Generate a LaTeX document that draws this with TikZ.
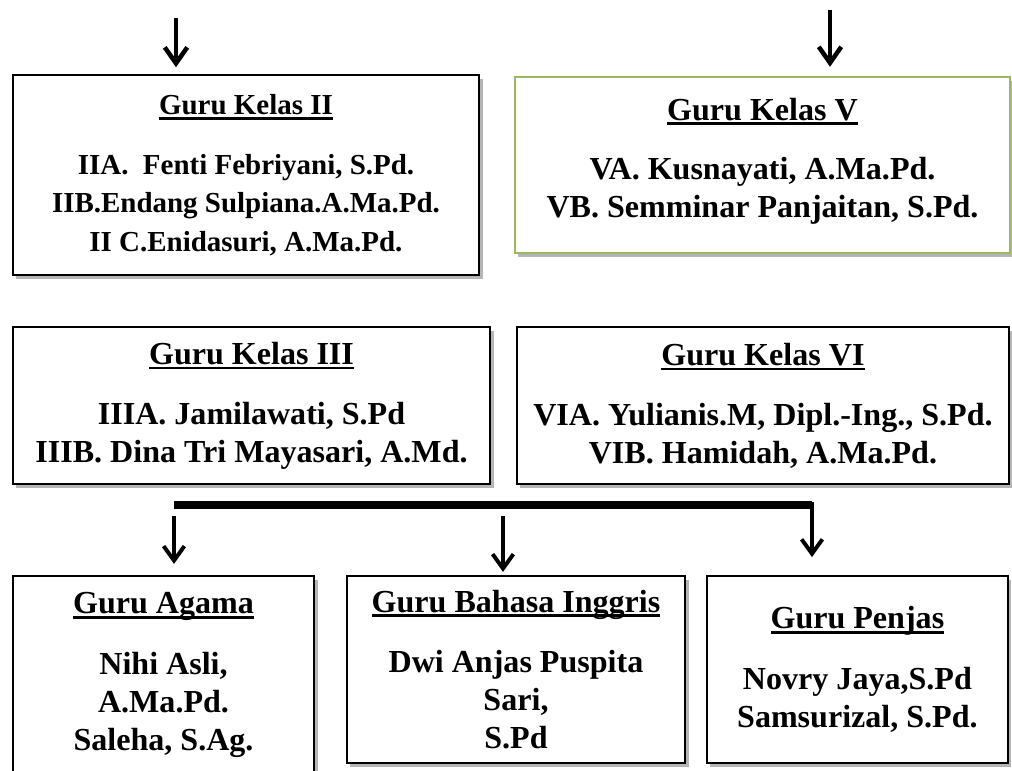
\documentclass[tikz,border=0pt]{standalone}
\usepackage{fontspec}
\setmainfont{Liberation Serif}
\usepackage{xcolor}
\usepackage{tikz}
\usetikzlibrary{positioning,arrows.meta,shadows}
\definecolor{kelasgreen}{RGB}{155,187,89}
\definecolor{shade}{RGB}{150,150,150}
\newcommand{\titleline}[1]{\setbox0\hbox{#1}\rlap{\rule[-3.6pt]{\wd0}{2pt}}\box0}
\tikzset{
  box/.style={draw, line width=1.3pt, fill=white, align=center,
              font=\bfseries\fontsize{22.8}{27}\selectfont,
              drop shadow={shadow xshift=2.5pt, shadow yshift=-3pt, fill=shade, opacity=.7}},
  greenbox/.style={box, draw=kelasgreen, line width=2pt},
  smallbox/.style={box, font=\bfseries\fontsize{20.6}{27.4}\selectfont},
  arrow/.style={line width=3.2pt, -{Straight Barb[length=4mm,width=5.6mm,line width=3.2pt]}},
  thinarrow/.style={line width=2.8pt, -{Straight Barb[length=3.6mm,width=5.2mm,line width=2.8pt]}},
  bar/.style={line width=5pt},
}
\begin{document}
\begin{tikzpicture}[x=0.025cm, y=-0.025cm]
  \useasboundingbox (0,0) rectangle (1012,770);
  \clip (0,0) rectangle (1012,770);

  % Kelas II and V
  \node[smallbox, minimum width=11.65cm, minimum height=5cm] (k2) at (246,175)
    {\titleline{Guru Kelas II}\\[15pt]
     IIA.\ \ Fenti Febriyani, S.Pd.\\
     IIB.Endang Sulpiana.A.Ma.Pd.\\
     II C.Enidasuri, A.Ma.Pd.};
  \node[greenbox, minimum width=12.375cm, minimum height=4.4cm] (k5) at (762.5,165)
    {\titleline{Guru Kelas V}\\[15.5pt]
     VA. Kusnayati, A.Ma.Pd.\\
     VB. Semminar Panjaitan, S.Pd.\\[-17pt]\mbox{}};

  \coordinate (in2) at (176,18);
  \coordinate (in5) at (830,10);
  \draw[arrow, shorten >=0.17cm] (in2) -- (in2 |- k2.north);
  \draw[arrow, shorten >=0.22cm] (in5) -- (in5 |- k5.north);

  % Kelas III and VI
  \node[box, minimum width=11.925cm, minimum height=3.925cm] (k3) at (251.5,405.5)
    {\titleline{Guru Kelas III}\\[15.5pt]
     IIIA. Jamilawati, S.Pd\\
     IIIB. Dina Tri Mayasari, A.Md.};
  \node[box, minimum width=12.3cm, minimum height=3.925cm, right=0.625cm of k3] (k6)
    {\titleline{Guru Kelas VI}\\[15.5pt]
     VIA. Yulianis.M, Dipl.-Ing., S.Pd.\\
     VIB. Hamidah, A.Ma.Pd.};

  % Guru bidang studi
  \node[box, minimum width=7.525cm, minimum height=4.95cm] (agama) at (163.5,675)
    {\titleline{Guru Agama}\\[16pt]
     Nihi Asli,\\
     A.Ma.Pd.\\
     Saleha, S.Ag.};
  \node[box, minimum width=8.45cm, minimum height=4.675cm] (bahasa) at (516,669.5)
    {\titleline{Guru Bahasa Inggris}\\[16pt]
     Dwi Anjas Puspita\\
     Sari,\\
     S.Pd};
  \node[box, minimum width=7.525cm, minimum height=4.675cm, right=0.5cm of bahasa] (penjas)
    {\titleline{Guru Penjas}\\[16pt]
     Novry Jaya,S.Pd\\
     Samsurizal, S.Pd.};

  \coordinate (barL) at (174,505);
  \coordinate (barR) at (812,505);
  \coordinate (outA) at (174,516);
  \coordinate (outB) at (503,516);
  \draw[bar] (barL) -- (barR);
  \draw[thinarrow, shorten >=0.28cm] (outA) -- (outA |- agama.north);
  \draw[thinarrow, shorten >=0.08cm] (outB) -- (outB |- bahasa.north);
  \draw[thinarrow, shorten >=0.45cm] ([yshift=2pt]barR) -- (barR |- penjas.north);
\end{tikzpicture}
\end{document}
